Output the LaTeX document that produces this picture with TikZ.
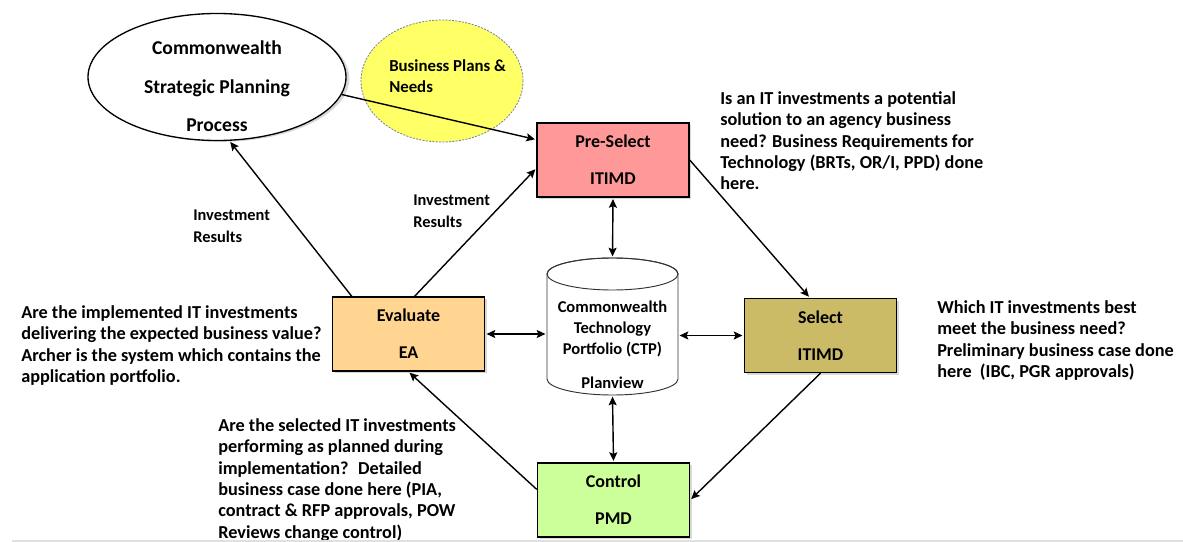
\documentclass[tikz,border=0pt]{standalone}
\usepackage{fontspec}
\setmainfont{Carlito}
\usetikzlibrary{arrows.meta,shadows,calc,shapes.geometric}
\definecolor{preC}{HTML}{FF9999}
\definecolor{evC}{HTML}{FFD591}
\definecolor{selC}{HTML}{CCBB66}
\definecolor{ctlC}{HTML}{CCFF99}
\definecolor{bizC}{HTML}{FFFF66}
\definecolor{bizB}{HTML}{6F7F9F}
\begin{document}
\begin{tikzpicture}[x=0.75pt,y=-0.75pt,
  myshadow/.style={drop shadow={shadow xshift=1.5pt,shadow yshift=-1.5pt,fill=black!30}},
  stage/.style={draw=black, line width=1.1pt, minimum width=114pt, minimum height=55.5pt,
    inner sep=0pt, align=center, font=\bfseries\fontsize{13.5}{27.75}\selectfont, myshadow},
  tip/.tip={Stealth[length=6.5pt,width=6pt,inset=1.2pt]},
  conn/.style={line width=1.05pt, -tip, shorten >=1pt},
  both/.style={line width=1.05pt, tip-tip, shorten >=1pt, shorten <=1pt},
  note/.style={anchor=north west, inner sep=0pt, align=left, font=\bfseries\fontsize{13.7}{16}\selectfont},
  small/.style={anchor=north west, inner sep=0pt, align=left, font=\bfseries\fontsize{12.3}{16.5}\selectfont},
]
\useasboundingbox (0,0) rectangle (1183,542);

% ellipses
\node[ellipse, draw=black, line width=1pt, fill=white, minimum width=193.5pt, minimum height=95.25pt,
  inner sep=0pt, drop shadow={shadow xshift=2.5pt,shadow yshift=-1pt,fill=black!30}] (sp) at (217,77) {};
\node[align=center, inner sep=0pt, font=\bfseries\fontsize{14.7}{28.9}\selectfont] (spt) at (217,86.5)
  {Commonwealth\\Strategic Planning\\Process};
\node[ellipse, draw=bizB, dashed, dash pattern=on 1.5pt off 1pt, line width=0.6pt, fill=bizC,
  minimum width=121.5pt, minimum height=91.5pt, inner sep=0pt] (biz) at (442,81) {};
\node[anchor=west, align=left, inner sep=0pt, font=\bfseries\fontsize{12.6}{15.75}\selectfont] (bizt) at (389,76.5)
  {Business Plans \&\\Needs};

% stage boxes
\node[stage, fill=preC] (pre) at (613,160) {Pre-Select\\ITIMD};
\node[stage, fill=evC]  (ev)  at (408.5,334) {Evaluate\\EA};
\node[stage, fill=selC] (sel) at (820.5,335.5) {Select\\ITIMD};
\node[stage, fill=ctlC] (ctl) at (613.5,500) {Control\\PMD};

% cylinder
\node[minimum width=98.25pt, minimum height=102.75pt, inner sep=0pt] (ctp) at (612.5,326.5) {};
\path[draw=black!80, line width=0.7pt, fill=white]
  (547,274) -- (547,379) arc[start angle=180, end angle=0, x radius=65.5, y radius=16]
  -- (678,274) arc[start angle=0, end angle=-180, x radius=65.5, y radius=16] -- cycle;
\draw[black!80, line width=0.7pt] (612.5,274) ellipse [x radius=65.5, y radius=16];
\node[align=center, inner sep=0pt, font=\bfseries\fontsize{12.4}{16}\selectfont] (ctpt) at (612.5,344.5)
  {Commonwealth\\Technology\\Portfolio (CTP)\\[9pt]Planview};

% connectors
\draw[conn] (sp.-8) -- ($(pre.north west)!0.23!(pre.south west)$);
\draw[conn] (pre.east) -- ([xshift=-8pt]sel.north);
\draw[conn] (sel.south) -- (ctl.east);
\draw[conn] ($(ctl.north west)!0.36!(ctl.south west)$) -- (ev.south);
\draw[conn] ($(ev.north west)!0.13!(ev.north east)$) -- (sp.-79);
\draw[conn] ($(ev.north west)!0.54!(ev.north east)$) -- ($(pre.north west)!0.61!(pre.south west)$);
\draw[both] (pre.south) -- (ctp.north);
\draw[both] (ctp.south) -- (ctl.north);
\draw[both] (ev.east) -- (ev.east -| ctp.west);
\draw[both] (ctp.east |- sel.west) -- (sel.west);

% labels
\node[small] (lab1) at (193,210) {Investment\\Results};
\node[small] (lab2) at (413,195) {Investment\\Results};

% notes
\node[note] (na) at (720,91.5) {Is an IT investments a potential\\solution to an agency business\\need? Business Requirements for\\Technology (BRTs, OR/I, PPD) done\\here.};
\node[note] (nb) at (937,300.5) {Which IT investments best\\meet the business need?\\Preliminary business case done\\here~ (IBC, PGR approvals)};
\node[note] (nc) at (21,305.5) {Are the implemented IT investments\\delivering the expected business value?\\Archer is the system which contains the\\application portfolio.};
\node[note] (nd) at (218,418.5) {Are the selected IT investments\\performing as planned during\\implementation?~ Detailed\\business case done here (PIA,\\contract \& RFP approvals, POW\\Reviews change control)};

\draw[black!12, line width=1.2pt] (12,541) -- (1183,541);
\end{tikzpicture}
\end{document}
